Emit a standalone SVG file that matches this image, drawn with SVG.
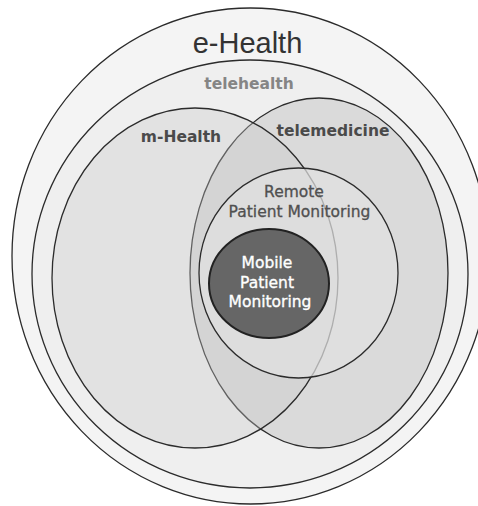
<svg xmlns="http://www.w3.org/2000/svg" width="478" height="506" viewBox="0 0 478 506">
  <style>
    .ring { stroke: #2b2b2b; stroke-width: 1.3; }
    .lbl { font-family: "DejaVu Sans", Verdana, sans-serif; text-anchor: middle; }
    .bold { font-weight: bold; font-size: 15.5px; }
  </style>
  <rect width="478" height="506" fill="#ffffff"/>

  <g id="e-health">
    <ellipse class="ring" cx="250.5" cy="256" rx="238.5" ry="248" fill="#f4f4f4"/>
    <text x="247.5" y="53" font-family="'Liberation Sans', Arial, sans-serif" font-size="29" fill="#333333" text-anchor="middle">e-Health</text>
  </g>

  <g id="telehealth">
    <ellipse class="ring" cx="250" cy="274" rx="218" ry="214" fill="#efefef"/>
    <text class="lbl bold" x="249" y="89" fill="#858585">telehealth</text>
  </g>

  <g id="telemedicine">
    <ellipse class="ring" cx="319" cy="273" rx="129" ry="175" fill="#dadada"/>
    <text class="lbl bold" x="333" y="136" fill="#4a4a4a">telemedicine</text>
  </g>

  <g id="m-health">
    <ellipse class="ring" cx="195" cy="278" rx="143" ry="170" fill="#cbcbcb" fill-opacity="0.34"/>
    <text class="lbl bold" x="181" y="142" fill="#4a4a4a">m-Health</text>
  </g>

  <g id="remote-patient-monitoring">
    <ellipse class="ring" cx="298.5" cy="273" rx="99.5" ry="105" fill="#e0e0e0" fill-opacity="0.72"/>
    <g class="lbl" font-size="15.5" fill="#505050" stroke="#505050" stroke-width="0.3">
      <text x="294" y="197">Remote</text>
      <text x="299.5" y="217">Patient Monitoring</text>
    </g>
  </g>

  <g id="mobile-patient-monitoring">
    <ellipse cx="269" cy="283.5" rx="60" ry="54.5" fill="#666666" stroke="#222222" stroke-width="2"/>
    <g class="lbl" font-size="15.5" fill="#ffffff" stroke="#ffffff" stroke-width="0.35">
      <text x="267" y="268">Mobile</text>
      <text x="267" y="288">Patient</text>
      <text x="270" y="307">Monitoring</text>
    </g>
  </g>

  <g id="connectors"/>
</svg>
